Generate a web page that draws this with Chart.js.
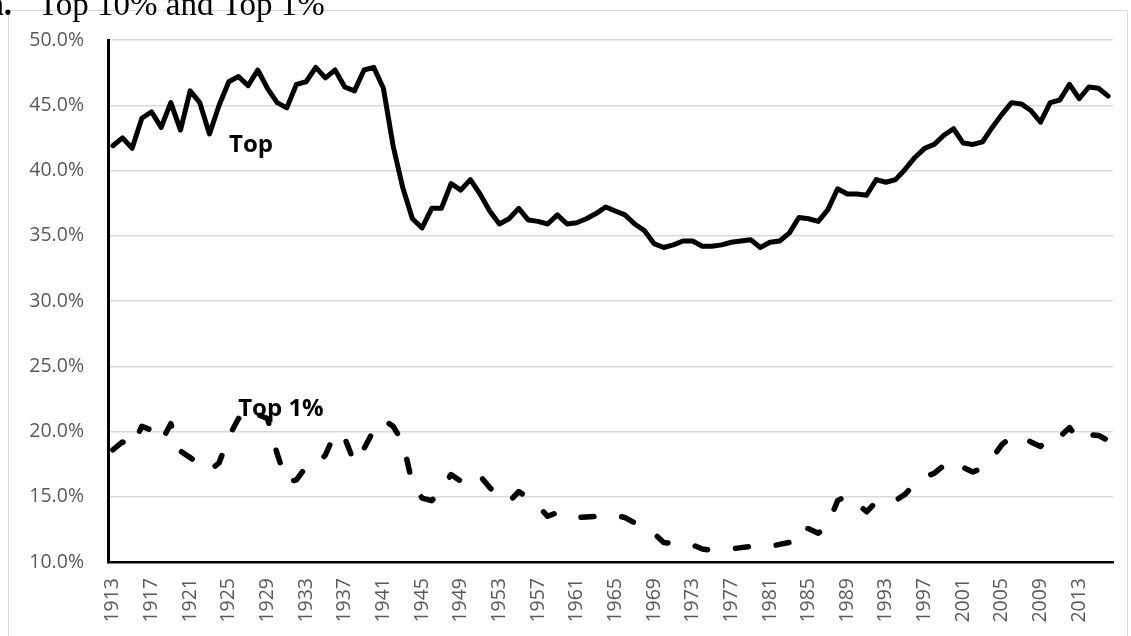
<!DOCTYPE html>
<html>
<head>
<meta charset="utf-8">
<title>Top 10% and Top 1%</title>
<script src="https://cdn.jsdelivr.net/npm/chart.js"></script>
<style>
  html, body { margin: 0; padding: 0; background: #fff; }
  #wrap { position: relative; width: 1131px; height: 636px; overflow: hidden; }
</style>
</head>
<body>
<div id="wrap"><canvas id="shares"></canvas></div>
<script>
'use strict';

const years = [
    1913, 1914, 1915, 1916, 1917, 1918, 1919, 1920, 1921, 1922, 1923, 1924, 1925,
    1926, 1927, 1928, 1929, 1930, 1931, 1932, 1933, 1934, 1935, 1936, 1937, 1938,
    1939, 1940, 1941, 1942, 1943, 1944, 1945, 1946, 1947, 1948, 1949, 1950, 1951,
    1952, 1953, 1954, 1955, 1956, 1957, 1958, 1959, 1960, 1961, 1962, 1963, 1964,
    1965, 1966, 1967, 1968, 1969, 1970, 1971, 1972, 1973, 1974, 1975, 1976, 1977,
    1978, 1979, 1980, 1981, 1982, 1983, 1984, 1985, 1986, 1987, 1988, 1989, 1990,
    1991, 1992, 1993, 1994, 1995, 1996, 1997, 1998, 1999, 2000, 2001, 2002, 2003,
    2004, 2005, 2006, 2007, 2008, 2009, 2010, 2011, 2012, 2013, 2014, 2015, 2016
];

// top 10% share, %
const top10 = [
    41.9, 42.5, 41.7, 44.0, 44.5, 43.3, 45.2, 43.1, 46.1, 45.2, 42.8, 45.0, 46.8,
    47.2, 46.5, 47.7, 46.3, 45.2, 44.8, 46.6, 46.8, 47.9, 47.1, 47.7, 46.4, 46.1,
    47.7, 47.9, 46.3, 41.9, 38.7, 36.3, 35.6, 37.1, 37.1, 39.0, 38.5, 39.3, 38.2,
    36.9, 35.9, 36.3, 37.1, 36.2, 36.1, 35.9, 36.6, 35.9, 36.0, 36.3, 36.7, 37.2,
    36.9, 36.6, 35.9, 35.4, 34.4, 34.1, 34.3, 34.6, 34.6, 34.2, 34.2, 34.3, 34.5,
    34.6, 34.7, 34.1, 34.5, 34.6, 35.2, 36.4, 36.3, 36.1, 37.0, 38.6, 38.2, 38.2,
    38.1, 39.3, 39.1, 39.3, 40.1, 41.0, 41.7, 42.0, 42.7, 43.2, 42.1, 42.0, 42.2,
    43.3, 44.3, 45.2, 45.1, 44.6, 43.7, 45.2, 45.4, 46.6, 45.5, 46.4, 46.3, 45.7
];

// top 1% share, %
const top1 = [
    18.6, 19.2, 18.8, 20.4, 20.1, 19.2, 20.6, 18.5, 18.0, 17.5, 17.0, 17.6, 19.6,
    21.0, 20.5, 21.3, 21.0, 18.3, 16.1, 16.3, 17.3, 17.4, 18.2, 19.9, 19.5, 17.6,
    18.7, 20.1, 20.9, 20.4, 19.2, 16.0, 14.9, 14.7, 15.5, 16.7, 16.2, 16.8, 16.6,
    15.7, 15.0, 14.6, 15.4, 14.9, 14.3, 13.5, 13.8, 13.5, 13.4, 13.45, 13.5, 13.6,
    13.6, 13.4, 13.0, 12.6, 12.2, 11.5, 11.4, 11.5, 11.3, 11.0, 10.9, 10.9, 11.0,
    11.1, 11.2, 11.15, 11.2, 11.35, 11.5, 12.7, 12.55, 12.2, 12.85, 14.7, 15.1, 14.5,
    13.85, 14.6, 14.6, 14.7, 15.2, 16.0, 16.5, 16.8, 17.4, 17.8, 17.25, 16.9, 17.2,
    17.95, 19.0, 19.6, 19.65, 19.2, 18.85, 19.75, 19.6, 20.3, 19.3, 19.75, 19.7, 19.3
];

const tickYears = [
    1913, 1917, 1921, 1925, 1929, 1933, 1937, 1941, 1945, 1949, 1953, 1957, 1961,
    1965, 1969, 1973, 1977, 1981, 1985, 1989, 1993, 1997, 2001, 2005, 2009, 2013
];

const yTicks = [10, 15, 20, 25, 30, 35, 40, 45, 50];

const TICK_FONT = { family: '"Open Sans", sans-serif', size: 19.5 };
const TICK_COLOR = '#595959';

// in-plot series names, anchored in data space (category index, value)
const seriesNames = [
    { text: 'Top', index: 14.3, value: 41.4 },
    { text: 'Top 1%', index: 17.4, value: 21.2 }
];

const decorations = {
    id: 'decorations',
    beforeDraw(chart) {
        const ctx = chart.ctx;
        ctx.save();
        // frame of the pasted chart
        ctx.strokeStyle = '#d9d9d9';
        ctx.lineWidth = 1;
        ctx.strokeRect(8.5, 10.5, 1119, 640);

        // caption from the page above, cut at the top
        ctx.fillStyle = '#000';
        ctx.textBaseline = 'alphabetic';
        ctx.font = 'bold 33px "Liberation Serif", serif';
        const aw = ctx.measureText('a.').width;
        ctx.fillText('a.', 12 - aw, 15);
        ctx.font = '33px "Liberation Serif", serif';
        ctx.fillText('Top 10% and Top 1%', 38, 15);
        ctx.restore();
    },
    afterDatasetsDraw(chart) {
        const { ctx, scales: { x, y } } = chart;
        ctx.save();
        ctx.fillStyle = '#000';
        ctx.font = 'bold 24px "Open Sans", sans-serif';
        ctx.textAlign = 'center';
        ctx.textBaseline = 'alphabetic';
        seriesNames.forEach(n => {
            ctx.fillText(n.text, x.getPixelForValue(n.index), y.getPixelForValue(n.value));
        });
        ctx.restore();
    }
};

new Chart(document.getElementById('shares'), {
    type: 'line',
    data: {
        labels: years.map(String),
        datasets: [
            {
                label: 'Top 10%',
                data: top10,
                borderColor: '#000',
                borderWidth: 5,
                borderJoinStyle: 'round',
                borderCapStyle: 'round',
                pointRadius: 0,
                tension: 0,
                fill: false
            },
            {
                label: 'Top 1%',
                data: top1,
                borderColor: '#000',
                borderWidth: 5.5,
                borderDash: [13, 28],
                borderJoinStyle: 'round',
                borderCapStyle: 'round',
                pointRadius: 0,
                tension: 0,
                fill: false
            }
        ]
    },
    options: {
        responsive: true,
        maintainAspectRatio: false,
        animation: false,
        events: [],
        layout: { padding: { left: 0, top: 40, right: 18, bottom: 0 } },
        plugins: {
            legend: { display: false },
            tooltip: { enabled: false }
        },
        scales: {
            x: {
                type: 'category',
                offset: true,
                grid: { display: false, drawTicks: false },
                border: { display: true, color: '#000', width: 2.5 },
                ticks: {
                    autoSkip: false,
                    minRotation: 90,
                    maxRotation: 90,
                    padding: 16,
                    color: TICK_COLOR,
                    font: TICK_FONT,
                    callback: function (val) {
                        const yr = years[val];
                        return tickYears.includes(yr) ? String(yr) : '';
                    }
                },
                afterFit: s => {
                    s.height = 74;
                    s.paddingLeft = 0;
                    s.paddingRight = 0;
                }
            },
            y: {
                min: 10,
                max: 50,
                afterBuildTicks: s => { s.ticks = yTicks.map(v => ({ value: v })); },
                grid: { color: '#d9d9d9', lineWidth: 1.5, drawTicks: false },
                border: { display: true, color: '#000', width: 3 },
                ticks: {
                    padding: 24,
                    color: TICK_COLOR,
                    font: TICK_FONT,
                    callback: v => v.toFixed(1) + '%'
                },
                afterFit: s => {
                    s.width = 108;
                    s.paddingTop = 0;
                    s.paddingBottom = 0;
                }
            }
        }
    },
    plugins: [decorations]
});
</script>
</body>
</html>
